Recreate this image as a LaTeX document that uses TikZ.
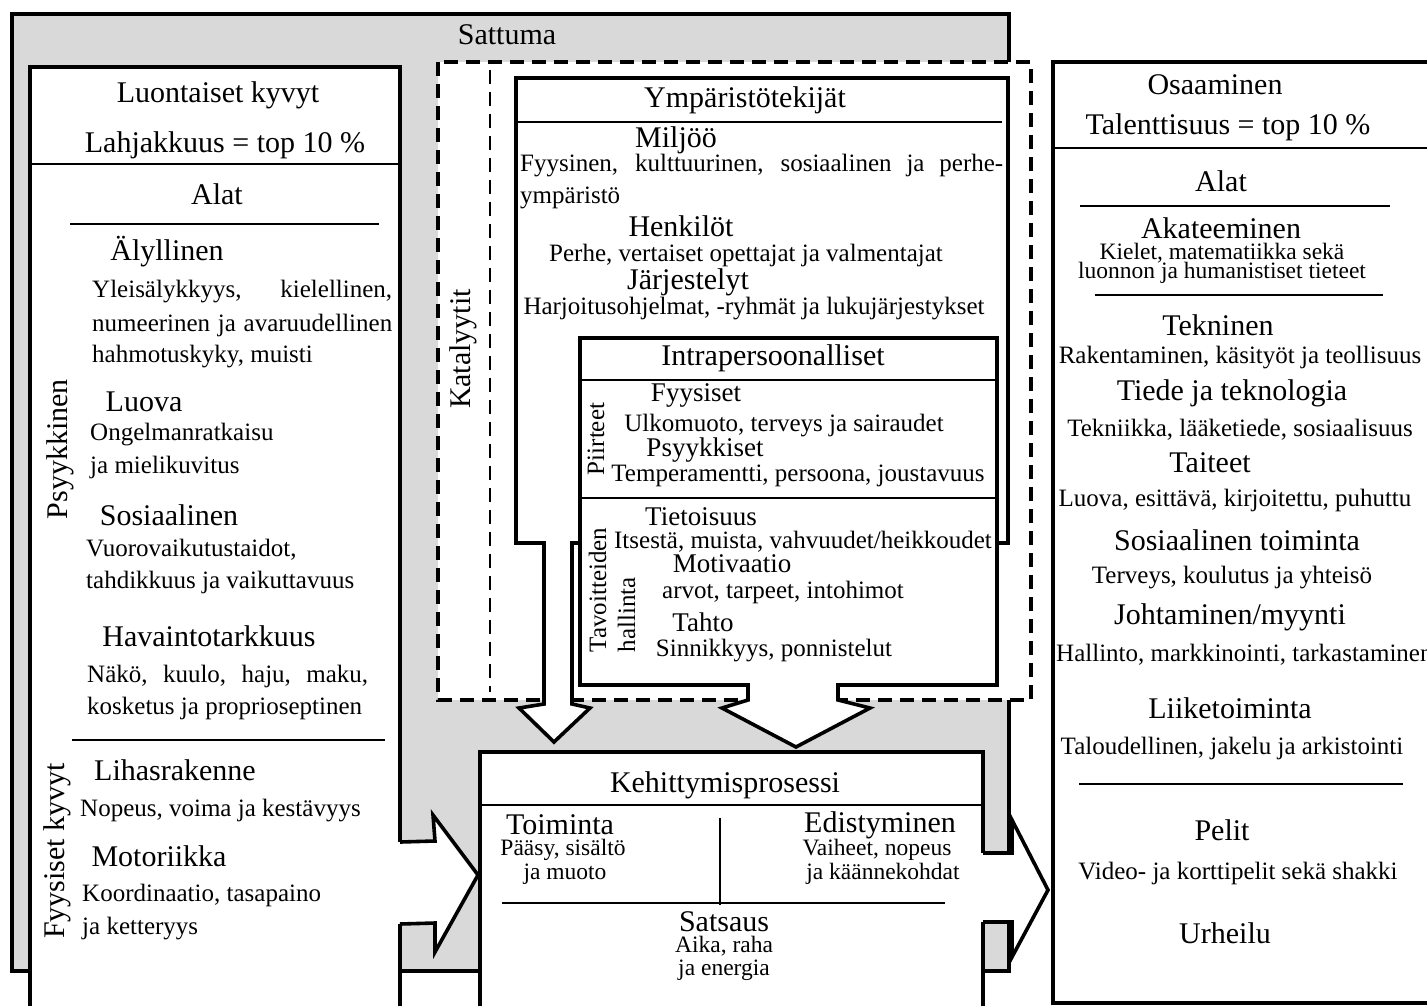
\documentclass[tikz,border=0pt]{standalone}
\usepackage{fontspec}
\setmainfont{Liberation Serif}
\usetikzlibrary{calc}

\tikzset{
  headtext/.style={font=\fontsize{30}{34}\selectfont, inner sep=0pt},
  midtext/.style={font=\fontsize{27}{31}\selectfont, inner sep=0pt},
  bodytext/.style={font=\fontsize{25}{29}\selectfont, inner sep=0pt},
  tighttext/.style={font=\fontsize{23.5}{26}\selectfont, inner sep=0pt},
  thickline/.style={line width=3.6pt, line join=miter},
  whitebox/.style={thickline, fill=white},
  sepline/.style={line width=1.3pt},
  catdash/.style={line width=3.6pt, dash pattern=on 14pt off 8pt},
}

\begin{document}
\begin{tikzpicture}[x=1pt,y=-1pt]
\useasboundingbox (0,0) rectangle (1427,1005);
\clip (0,0) rectangle (1427,1005);
%% Sattuma
\draw[thickline, fill=black!15] (12,14) rectangle (1009,971);
%% katalyytit, dashed
\draw[catdash, fill=white] (438,62) rectangle (1031,700);
\draw[line width=2.2pt, dash pattern=on 14pt off 8pt] (490,70) -- (490,692);
%% ymparisto with its arrow
\draw[whitebox] (516,78) -- (1008,78) -- (1008,543) -- (572,543) -- (572,704) -- (590,708)
   -- (554,742) -- (519,708) -- (544,704) -- (544,543) -- (516,543) -- cycle;
%% intrapersoonalliset with its arrow
\draw[whitebox] (580,338) -- (997,338) -- (997,685) -- (838,685) -- (838,700) -- (870,708)
   -- (796,747) -- (722,708) -- (748,700) -- (748,685) -- (580,685) -- cycle;
%% luontaiset kyvyt
\fill[white] (30,67) rectangle (400,1012);
\draw[thickline] (30,1012) -- (30,67) -- (400,67) -- (400,842);
\draw[thickline] (400,924) -- (400,1012);
\draw[whitebox] (400,842) -- (435,841) -- (433,815) -- (478,875) -- (435,952) -- (435,923) -- (400,924);
%% kehittymisprosessi
\fill[white] (480,752) rectangle (983,1012);
\draw[thickline] (480,1012) -- (480,752) -- (983,752) -- (983,853);
\draw[thickline] (983,922) -- (983,1012);
\draw[whitebox] (983,853) -- (1012,853) -- (1012,820) -- (1048,890) -- (1012,957) -- (1012,922) -- (983,922);
%% osaaminen
\draw[whitebox] (1053,62) rectangle (1445,1003);

\foreach \xa/\xb/\y in {30/400/164, 70/379/224, 72/385/740, 1053/1427/148, 1080/1390/206,
    1095/1383/295, 1079/1403/784, 516/1002/122, 580/997/380, 580/997/498, 480/985/805, 502/945/903}
    \draw[sepline] (\xa,\y) -- (\xb,\y);
\draw[sepline] (720,818) -- (720,905);

\node[headtext] (satt) at (507,35) {Sattuma};
\node[headtext, rotate=90] (kat) at (463,349) {Katalyytit};

%% left
\node[headtext] (lk) at (218,95) {Luontaiset kyvyt};
\node[headtext] (lahj) at (225,145) {Lahjakkuus = top 10 \%};
\node[headtext] (alatL) at (217,194) {Alat};
\node[headtext] (aly) at (167,252) {Älyllinen};
\node[bodytext, anchor=west] (alyA) at (92,292) {\makebox[300pt][s]{Yleisälykkyys, kielellinen,}};
\node[bodytext, anchor=west] (alyB) at (92,325) {\makebox[300pt][s]{numeerinen ja avaruudellinen}};
\node[bodytext, anchor=west] (alyC) at (92,357) {hahmotuskyky, muisti};
\node[headtext, rotate=90] (psy) at (60,449) {Psyykkinen};
\node[headtext] (luo) at (144,402) {Luova};
\node[bodytext, anchor=west] (luoA) at (90,435) {Ongelmanratkaisu};
\node[bodytext, anchor=west] (luoB) at (90,467) {ja mielikuvitus};
\node[headtext] (sos) at (169,515) {Sosiaalinen};
\node[bodytext, anchor=west] (sosA) at (86,550) {Vuorovaikutustaidot,};
\node[bodytext, anchor=west] (sosB) at (86,582) {tahdikkuus ja vaikuttavuus};
\node[headtext] (hav) at (209,636) {Havaintotarkkuus};
\node[bodytext, anchor=west] (havA) at (87,676) {\makebox[281pt][s]{Näkö, kuulo, haju, maku,}};
\node[bodytext, anchor=west] (havB) at (87,708) {kosketus ja proprioseptinen};
\node[headtext, rotate=90] (fyy) at (57,851) {Fyysiset kyvyt};
\node[headtext] (lih) at (175,770) {Lihasrakenne};
\node[bodytext, anchor=west] (lihA) at (80,811) {Nopeus, voima ja kestävyys};
\node[headtext] (mot) at (159,856) {Motoriikka};
\node[bodytext, anchor=west] (motA) at (82,895) {Koordinaatio, tasapaino};
\node[bodytext, anchor=west] (motB) at (82,929) {ja ketteryys};

%% ymparisto
\node[headtext] (ymp) at (745,100) {Ympäristötekijät};
\node[headtext] (mil) at (676,140) {Miljöö};
\node[bodytext, anchor=west] (milA) at (520,166) {\makebox[483pt][s]{Fyysinen, kulttuurinen, sosiaalinen ja perhe-}};
\node[bodytext, anchor=west] (milB) at (520,198) {ympäristö};
\node[headtext] (hen) at (681,226) {Henkilöt};
\node[bodytext] (henA) at (746,255) {Perhe, vertaiset opettajat ja valmentajat};
\node[headtext] (jar) at (688,282) {Järjestelyt};
\node[bodytext] (jarA) at (754,309) {Harjoitusohjelmat, -ryhmät ja lukujärjestykset};

%% intrapersoonalliset
\node[headtext] (intra) at (773,358) {Intrapersoonalliset};
\node[bodytext, rotate=90] (piir) at (596,439) {Piirteet};
\node[midtext] (fyys) at (696,395) {Fyysiset};
\node[bodytext] (fyysA) at (784,426) {Ulkomuoto, terveys ja sairaudet};
\node[midtext] (psyk) at (705,450) {Psyykkiset};
\node[bodytext] (psykA) at (798,476) {Temperamentti, persoona, joustavuus};
\node[bodytext, rotate=90, align=left] (tav) at (612,590) {Tavoitteiden\\hallinta};
\node[midtext] (tiet) at (701,517) {Tietoisuus};
\node[bodytext] (tietA) at (803,542) {Itsestä, muista, vahvuudet/heikkoudet};
\node[midtext] (moti) at (732,564) {Motivaatio};
\node[bodytext] (motiA) at (783,592) {arvot, tarpeet, intohimot};
\node[midtext] (taht) at (703,622) {Tahto};
\node[bodytext] (tahtA) at (774,651) {Sinnikkyys, ponnistelut};

%% kehittymisprosessi
\node[headtext] (keh) at (725,785) {Kehittymisprosessi};
\node[headtext] (toim) at (560,825) {Toiminta};
\node[tighttext] (toimA) at (563,850) {Pääsy, sisältö};
\node[tighttext] (toimB) at (565,874) {ja muoto};
\node[headtext] (edis) at (880,825) {Edistyminen};
\node[tighttext] (edisA) at (877,850) {Vaiheet, nopeus};
\node[tighttext] (edisB) at (883,874) {ja käännekohdat};
\node[headtext] (sats) at (724,922) {Satsaus};
\node[tighttext] (satsA) at (724,946) {Aika, raha};
\node[tighttext] (satsB) at (724,970) {ja energia};

%% osaaminen
\node[headtext] (osa) at (1215,85) {Osaaminen};
\node[headtext] (tal) at (1228,127) {Talenttisuus = top 10 \%};
\node[headtext] (alatR) at (1221,181) {Alat};
\node[headtext] (aka) at (1221,228) {Akateeminen};
\node[tighttext] (akaA) at (1222,253) {Kielet, matematiikka sekä};
\node[tighttext] (akaB) at (1222,273) {luonnon ja humanistiset tieteet};
\node[headtext] (tek) at (1218,325) {Tekninen};
\node[bodytext] (tekA) at (1240,358) {Rakentaminen, käsityöt ja teollisuus};
\node[headtext] (tie) at (1232,393) {Tiede ja teknologia};
\node[bodytext] (tieA) at (1240,430) {Tekniikka, lääketiede, sosiaalisuus};
\node[headtext] (tai) at (1210,463) {Taiteet};
\node[bodytext] (taiA) at (1235,500) {Luova, esittävä, kirjoitettu, puhuttu};
\node[headtext] (stoim) at (1237,540) {Sosiaalinen toiminta};
\node[bodytext] (stoimA) at (1232,578) {Terveys, koulutus ja yhteisö};
\node[headtext] (joh) at (1230,617) {Johtaminen/myynti};
\node[bodytext, anchor=west] (johA) at (1056,655) {Hallinto, markkinointi, tarkastaminen};
\node[headtext] (lii) at (1230,708) {Liiketoiminta};
\node[bodytext] (liiA) at (1232,748) {Taloudellinen, jakelu ja arkistointi};
\node[headtext] (pel) at (1222,830) {Pelit};
\node[bodytext] (pelA) at (1238,873) {Video- ja korttipelit sekä shakki};
\node[headtext] (urh) at (1225,933) {Urheilu};
\end{tikzpicture}
\end{document}
